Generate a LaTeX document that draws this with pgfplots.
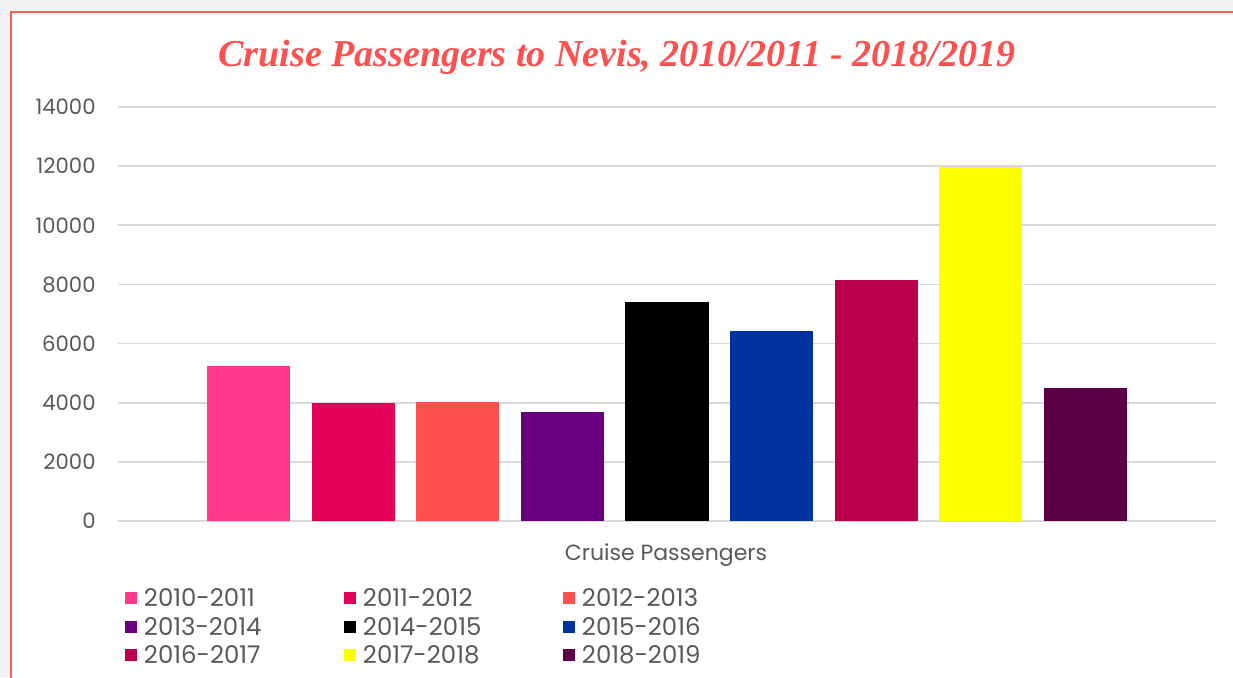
\documentclass[border=0pt]{standalone}
\usepackage{pgfplots}
\pgfplotsset{compat=1.18}
\usepackage{fontspec}
\setmainfont{Poppins}
\newfontfamily\titlefont{Liberation Serif}

\definecolor{pageGray}{HTML}{F2F2F2}
\definecolor{frameRed}{HTML}{FF5B5B}
\definecolor{titleRed}{HTML}{FF5050}
\definecolor{gridGray}{HTML}{D9D9D9}
\definecolor{tickGray}{HTML}{595959}
\definecolor{cA}{HTML}{FF388C}
\definecolor{cB}{HTML}{E40059}
\definecolor{cC}{HTML}{FF5050}
\definecolor{cD}{HTML}{68007F}
\definecolor{cE}{HTML}{000000}
\definecolor{cF}{HTML}{0033A0}
\definecolor{cG}{HTML}{BA004C}
\definecolor{cH}{HTML}{FFFF00}
\definecolor{cI}{HTML}{5E0048}

% legend text with fixed column pitch
\newcommand{\lentry}[1]{\makebox[103.5pt][l]{\hspace{3.5pt}#1}}

\begin{document}
\begin{tikzpicture}
\path[use as bounding box] (0,0) rectangle (616.5pt,-338.5pt);
\fill[pageGray] (0,0) rectangle (616.5pt,-338.5pt);
\filldraw[fill=white, draw=frameRed, line width=1.1pt] (5.5pt,-6pt) rectangle (640pt,-360pt);

\node[anchor=base, text=titleRed, font=\titlefont\bfseries\itshape\fontsize{19}{22}\selectfont]
  at (308.5pt,-33pt) {Cruise Passengers to Nevis, 2010/2011 - 2018/2019};

\begin{axis}[
    at={(59pt,-260.5pt)}, anchor=south west,
    scale only axis, width=549pt, height=207pt,
    xmin=-0.25, xmax=10.25,
    ymin=0, ymax=14000,
    ytick={0,2000,...,14000},
    scaled y ticks=false,
    xtick=\empty,
    ymajorgrids,
    grid style={gridGray, line width=0.9pt},
    axis line style={draw=none},
    major tick length=0pt,
    ybar, bar width=0.794,
    every axis plot/.append style={bar shift=0pt, draw=none},
    /pgf/number format/1000 sep={},
    /pgf/number format/assume math mode=true,
    yticklabel style={anchor=east, inner sep=0pt, xshift=-11pt, text=tickGray,
        font=\fontsize{10.6}{13}\selectfont},
    legend image code/.code={\fill[#1] (0pt,-2pt) rectangle (6pt,4pt);},
    legend columns=3,
    legend cell align=left,
    legend style={at={(0.006,-0.1643)}, anchor=north west, draw=none, fill=none,
        inner sep=0pt, column sep=0pt, row sep=3.85pt,
        nodes={inner sep=0pt, text=tickGray, font=\fontsize{12.2}{14}\selectfont,
            text height=8.5pt, text depth=2pt}},
]
\addplot[fill=cA] coordinates {(1,5250)};
\addlegendentry{\lentry{2010-2011}}
\addplot[fill=cB] coordinates {(2,3990)};
\addlegendentry{\lentry{2011-2012}}
\addplot[fill=cC] coordinates {(3,4020)};
\addlegendentry{\lentry{2012-2013}}
\addplot[fill=cD] coordinates {(4,3690)};
\addlegendentry{\lentry{2013-2014}}
\addplot[fill=cE] coordinates {(5,7410)};
\addlegendentry{\lentry{2014-2015}}
\addplot[fill=cF] coordinates {(6,6430)};
\addlegendentry{\lentry{2015-2016}}
\addplot[fill=cG] coordinates {(7,8150)};
\addlegendentry{\lentry{2016-2017}}
\addplot[fill=cH] coordinates {(8,11960)};
\addlegendentry{\lentry{2017-2018}}
\addplot[fill=cI] coordinates {(9,4500)};
\addlegendentry{\lentry{2018-2019}}
\end{axis}

\node[anchor=base, text=tickGray, font=\fontsize{11}{13}\selectfont]
  at (333pt,-280pt) {Cruise Passengers};
\end{tikzpicture}
\end{document}
